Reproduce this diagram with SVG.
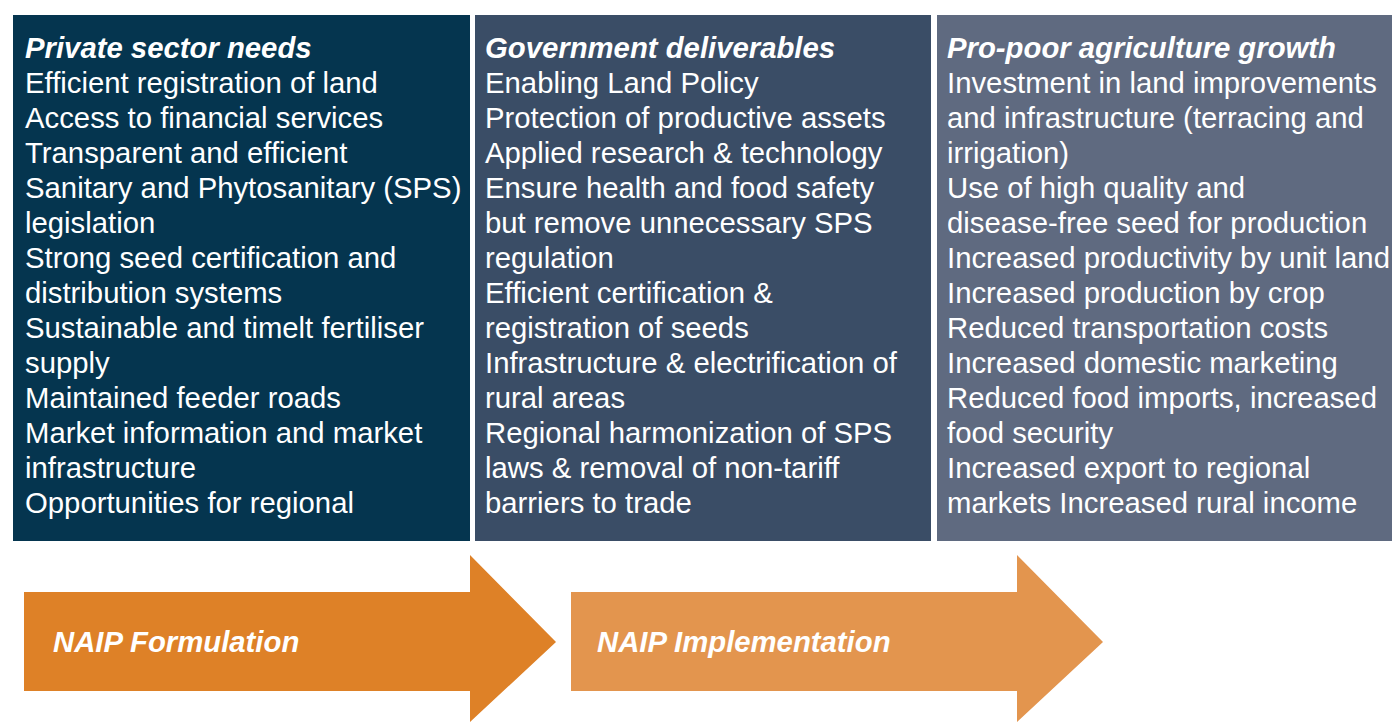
<svg xmlns="http://www.w3.org/2000/svg" width="1392" height="722" viewBox="0 0 1392 722">
<style>
.t{font-family:"Liberation Sans",Arial,sans-serif;font-size:29.3px;fill:#ffffff}
.h{font-weight:bold;font-style:italic}
</style>
<rect x="0" y="0" width="1392" height="722" fill="#ffffff"/>
<g id="box-private">
<rect x="13" y="15" width="457" height="526" fill="#05354f"/>
<text class="t" x="25" y="58"><tspan class="h">Private sector needs</tspan><tspan x="25" dy="35">Efficient registration of land</tspan><tspan x="25" dy="35">Access to financial services</tspan><tspan x="25" dy="35">Transparent and efficient</tspan><tspan x="25" dy="35">Sanitary and Phytosanitary (SPS)</tspan><tspan x="25" dy="35">legislation</tspan><tspan x="25" dy="35">Strong seed certification and</tspan><tspan x="25" dy="35">distribution systems</tspan><tspan x="25" dy="35">Sustainable and timelt fertiliser</tspan><tspan x="25" dy="35">supply</tspan><tspan x="25" dy="35">Maintained feeder roads</tspan><tspan x="25" dy="35">Market information and market</tspan><tspan x="25" dy="35">infrastructure</tspan><tspan x="25" dy="35">Opportunities for regional</tspan></text>
</g>
<g id="box-government">
<rect x="475" y="15" width="456" height="526" fill="#3a4d66"/>
<text class="t" x="485" y="58"><tspan class="h">Government deliverables</tspan><tspan x="485" dy="35">Enabling Land Policy</tspan><tspan x="485" dy="35">Protection of productive assets</tspan><tspan x="485" dy="35">Applied research &amp; technology</tspan><tspan x="485" dy="35">Ensure health and food safety</tspan><tspan x="485" dy="35">but remove unnecessary SPS</tspan><tspan x="485" dy="35">regulation</tspan><tspan x="485" dy="35">Efficient certification &amp;</tspan><tspan x="485" dy="35">registration of seeds</tspan><tspan x="485" dy="35">Infrastructure &amp; electrification of</tspan><tspan x="485" dy="35">rural areas</tspan><tspan x="485" dy="35">Regional harmonization of SPS</tspan><tspan x="485" dy="35">laws &amp; removal of non-tariff</tspan><tspan x="485" dy="35">barriers to trade</tspan></text>
</g>
<g id="box-growth">
<rect x="937" y="15" width="455" height="526" fill="#5f6a80"/>
<text class="t" x="947" y="58"><tspan class="h">Pro-poor agriculture growth</tspan><tspan x="947" dy="35">Investment in land improvements</tspan><tspan x="947" dy="35">and infrastructure (terracing and</tspan><tspan x="947" dy="35">irrigation)</tspan><tspan x="947" dy="35">Use of high quality and</tspan><tspan x="947" dy="35">disease-free seed for production</tspan><tspan x="947" dy="35">Increased productivity by unit land</tspan><tspan x="947" dy="35">Increased production by crop</tspan><tspan x="947" dy="35">Reduced transportation costs</tspan><tspan x="947" dy="35">Increased domestic marketing</tspan><tspan x="947" dy="35">Reduced food imports, increased</tspan><tspan x="947" dy="35">food security</tspan><tspan x="947" dy="35">Increased export to regional</tspan><tspan x="947" dy="35">markets Increased rural income</tspan></text>
</g>
<g id="arrow-formulation">
<polygon points="24,592 470,592 470,555 556,642 470,722 470,691 24,691" fill="#de8127"/>
<text class="t h" x="53" y="652">NAIP Formulation</text>
</g>
<g id="arrow-implementation">
<polygon points="571,592 1017,592 1017,555 1103,642 1017,722 1017,691 571,691" fill="#e3954e"/>
<text class="t h" x="597" y="652">NAIP Implementation</text>
</g>
</svg>
